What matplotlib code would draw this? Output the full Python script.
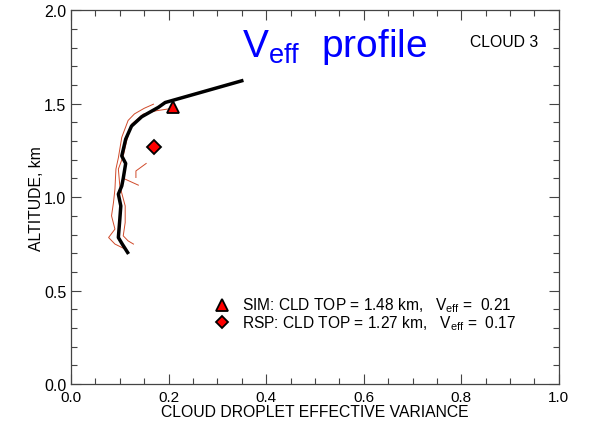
import numpy as np
import matplotlib.pyplot as plt
from matplotlib.ticker import MultipleLocator

plt.rcParams['font.family'] = ['Liberation Sans', 'DejaVu Sans']
plt.rcParams['mathtext.fontset'] = 'custom'
plt.rcParams['mathtext.rm'] = 'Liberation Sans'
plt.rcParams['mathtext.it'] = 'Liberation Sans'

# mean profile (thick black)
veff_mean = [0.350, 0.193, 0.179, 0.145, 0.124, 0.112, 0.104, 0.112, 0.107, 0.104,
             0.097, 0.102, 0.100, 0.097, 0.105, 0.116]
alt_mean = [1.622, 1.506, 1.48, 1.43, 1.38, 1.31, 1.22, 1.18, 1.10, 1.06,
            1.016, 0.953, 0.882, 0.784, 0.749, 0.704]

# individual profiles (thin red)
veff_r1 = [0.169, 0.150, 0.130, 0.117, 0.104, 0.097, 0.092, 0.090, 0.087, 0.083, 0.090, 0.077, 0.090, 0.111]
alt_r1 = [1.497, 1.475, 1.445, 1.41, 1.32, 1.21, 1.15, 1.043, 0.971, 0.90, 0.829, 0.784, 0.749, 0.722]
veff_r2 = [0.206, 0.175, 0.148, 0.124, 0.114, 0.107, 0.097, 0.100, 0.111, 0.111, 0.107, 0.117, 0.128]
alt_r2 = [1.474, 1.462, 1.444, 1.39, 1.30, 1.22, 1.15, 1.06, 0.953, 0.864, 0.793, 0.766, 0.749]
veff_r3 = [0.154, 0.133, 0.133]
alt_r3 = [1.18, 1.14, 1.105]
veff_r4 = [0.111, 0.138]
alt_r4 = [1.096, 1.064]

# retrievals
sim_veff, sim_top = 0.21, 1.48
rsp_veff, rsp_top = 0.17, 1.27

fig = plt.figure(figsize=(5.92, 4.27), dpi=100)
ax = fig.add_axes([0.120, 0.098, 0.824, 0.876])

red = '#d04a2a'
for xs, ys in [(veff_r1, alt_r1), (veff_r2, alt_r2), (veff_r3, alt_r3), (veff_r4, alt_r4)]:
    ax.plot(xs, ys, color=red, lw=0.7)
ax.plot(veff_mean, alt_mean, color='black', lw=2.5)

ax.plot(sim_veff, sim_top, marker='^', ms=9, mfc='red', mec='black', mew=1.3, ls='none')
ax.plot(rsp_veff, rsp_top, marker='D', ms=7, mfc='red', mec='black', mew=1.3, ls='none')

ax.set_xlim(0, 1.0)
ax.set_ylim(0, 2.0)
ax.xaxis.set_major_locator(MultipleLocator(0.2))
ax.xaxis.set_minor_locator(MultipleLocator(0.05))
ax.yaxis.set_major_locator(MultipleLocator(0.5))
ax.yaxis.set_minor_locator(MultipleLocator(0.1))
ax.xaxis.set_major_formatter(plt.FormatStrFormatter('%.1f'))
ax.yaxis.set_major_formatter(plt.FormatStrFormatter('%.1f'))
ax.tick_params(which='both', direction='in', top=True, right=True, labelsize=11.5, color='#444444')
ax.tick_params(which='major', length=7, width=0.8)
ax.tick_params(which='minor', length=4, width=0.8)
ax.tick_params(axis='x', pad=4, labelsize=11)
for s in ax.spines.values():
    s.set_color('#444444')
    s.set_linewidth(0.9)

ax.set_xlabel('CLOUD DROPLET EFFECTIVE VARIANCE', fontsize=11.3, labelpad=0)
ax.set_ylabel('ALTITUDE, km', fontsize=11.3, labelpad=0)

ax.text(0.35, 1.755, r'$\mathrm{V_{eff}}$  profile', color='blue', fontsize=28)
ax.text(0.818, 1.81, 'CLOUD 3', fontsize=11.3)

# legend-like annotations
ax.plot(0.31, 0.425, marker='^', ms=8, mfc='red', mec='black', mew=1.3, ls='none')
ax.plot(0.31, 0.33, marker='D', ms=6.5, mfc='red', mec='black', mew=1.3, ls='none')
ax.text(0.35, 0.425, r'SIM: CLD TOP = 1.48 km,   V$_{\mathrm{eff}}$ =  0.21', fontsize=11.2, va='center')
ax.text(0.35, 0.33, r'RSP: CLD TOP = 1.27 km,   V$_{\mathrm{eff}}$ =  0.17', fontsize=11.2, va='center')

fig.savefig('out.png', dpi=100)
